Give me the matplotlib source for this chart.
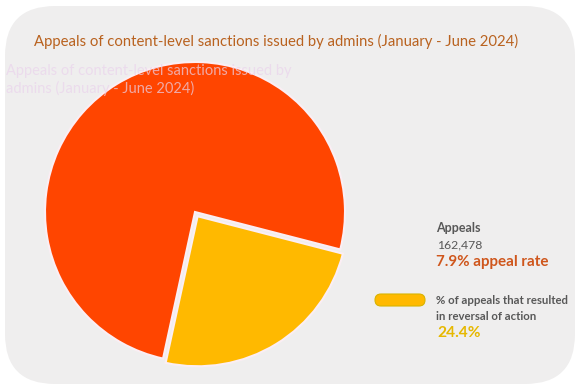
import matplotlib
matplotlib.use("Agg")
from matplotlib import pyplot as plt
from matplotlib.patches import FancyBboxPatch

# data
labels = ['% of appeals that resulted in reversal of action', 'Appeals']
shares = [24.4, 75.6]
colors = ['#FFB900', '#FF4500']
appeals_total = '162,478'
appeal_rate = '7.9% appeal rate'
reversal_rate = '24.4%'
title = 'Appeals of content-level sanctions issued by admins (January - June 2024)'
caption = 'Appeals of content-level sanctions issued by\nadmins (January - June 2024)'

W, H = 582, 391
plt.rcParams['font.family'] = ['Lato', 'DejaVu Sans']

fig = plt.figure(figsize=(W / 100, H / 100), dpi=100)
ax = fig.add_axes([0, 0, 1, 1])


def Y(y):
    # image pixel row -> axes y
    return H - y


# rounded card background
card = FancyBboxPatch((5 + 50, Y(384) + 50), 570 - 100, 378 - 100,
                      boxstyle='round,pad=50', fc='#EFEEEE', ec='none', zorder=0)
ax.add_patch(card)

ax.pie(shares, colors=colors, startangle=-102.3, counterclock=True,
       center=(195, Y(212)), radius=150, explode=(5, 0),
       wedgeprops=dict(edgecolor='#fbeef4', linewidth=1.5))

ax.set_xlim(0, W)
ax.set_ylim(0, H)
ax.set_aspect('auto')
ax.axis('off')

ax.text(276, Y(41), title, ha='center', va='center',
        fontsize=10.7, color='#B9621F')

# faint caption over the pie
ax.text(6, Y(80), caption, fontsize=10.5, color='#ead3ec', alpha=0.7,
        va='center', ha='left', linespacing=1.25, zorder=5)

# legend / annotations
grey = '#585858'
ax.text(436, Y(228), 'Appeals', fontsize=9, fontweight='bold', color=grey, va='center')
ax.text(437, Y(245), appeals_total, fontsize=8.8, color=grey, va='center')
ax.text(436, Y(262), appeal_rate, fontsize=10.9, fontweight='bold', color='#CF561C', va='center')

pill = FancyBboxPatch((375, Y(306)), 50, 12, boxstyle='round,pad=0,rounding_size=6',
                      fc=colors[0], ec='#d9b400', lw=0.8)
ax.add_patch(pill)
ax.text(436, Y(300), '% of appeals that resulted', fontsize=8.2, fontweight='bold',
        color=grey, va='center')
ax.text(436, Y(316), 'in reversal of action', fontsize=8.2, fontweight='bold',
        color=grey, va='center')
ax.text(437, Y(333), reversal_rate, fontsize=11.2, fontweight='bold', color='#E6B800', va='center')

fig.savefig('out.png', dpi=100, facecolor='white')
